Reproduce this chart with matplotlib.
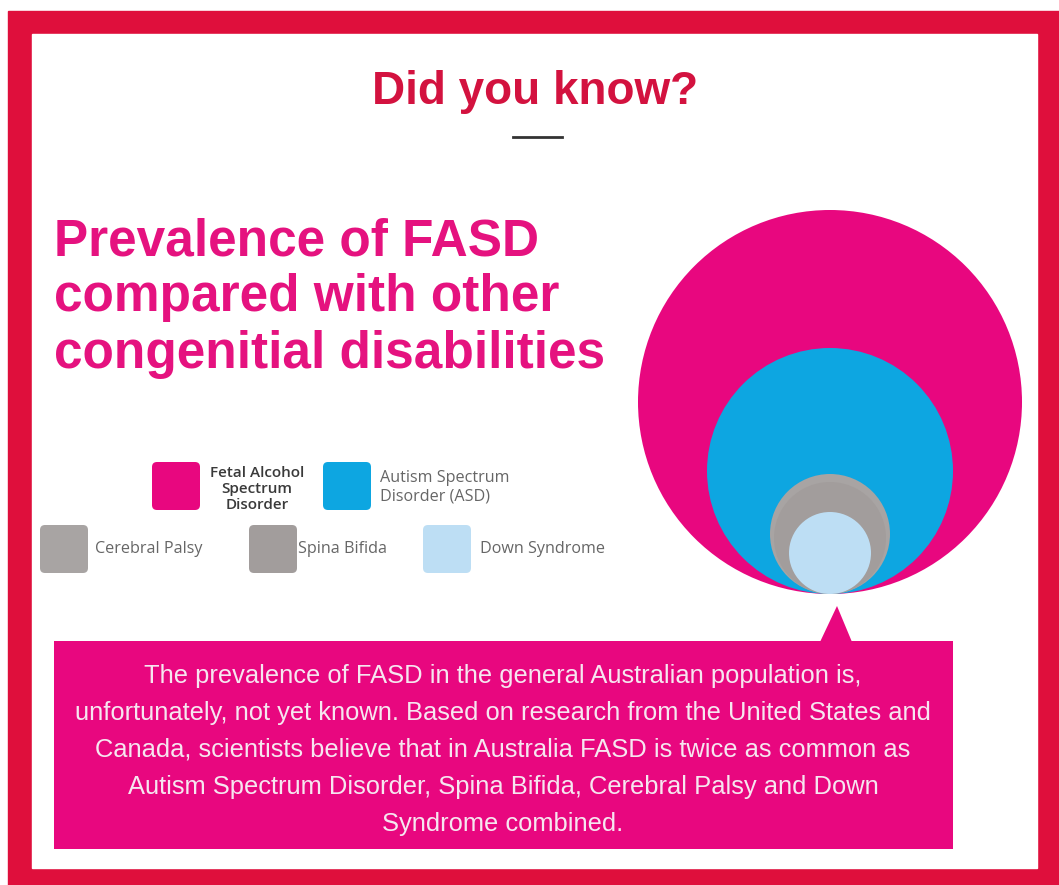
import matplotlib.pyplot as plt
from matplotlib.patches import Rectangle, Circle, FancyBboxPatch, Polygon

# %% data
title = 'Did you know?'
heading = ['Prevalence of FASD', 'compared with other', 'congenitial disabilities']
conditions = ['Fetal Alcohol\nSpectrum\nDisorder', 'Autism Spectrum\nDisorder (ASD)',
              'Cerebral Palsy', 'Spina Bifida', 'Down Syndrome']
# relative circle radius per condition (px)
radius = [192, 123, 60, 56, 41]
colors = ['#E8077F', '#0DA6E1', '#A8A4A3', '#A29D9C', '#BDDEF4']
body = ['The prevalence of FASD in the general Australian population is,',
        'unfortunately, not yet known. Based on research from the United States and',
        'Canada, scientists believe that in Australia FASD is twice as common as',
        'Autism Spectrum Disorder, Spina Bifida, Cerebral Palsy and Down',
        'Syndrome combined.']

# %% figure
W, H = 1059, 885
fig = plt.figure(figsize=(W / 100, H / 100), dpi=100)
ax = fig.add_axes([0, 0, 1, 1])
ax.set_xlim(0, W)
ax.set_ylim(H, 0)
ax.axis('off')

red = '#DF0F3C'
magenta = '#E8077F'
ax.add_patch(Rectangle((8, 11), W - 8, H - 11, color=red, zorder=0))
ax.add_patch(Rectangle((32, 34), 1037 - 32, 868 - 34, color='white', zorder=1))

# title + little dash
ax.text(535, 92, title, ha='center', va='center', fontsize=33, fontweight='bold',
        family='Liberation Sans', color='#D3123F', zorder=3)
ax.plot([513, 562], [137, 137], color='#333333', lw=2, zorder=3)

# heading
for i, line in enumerate(heading):
    ax.text(54, 255 + i * 56.5, line, ha='left', va='baseline', fontsize=37,
            fontweight='bold', family='Liberation Sans', color='#E5127F', zorder=3)

# nested circles, all touching the same bottom point
cx, base = 830, 594
for r, c in zip(radius, colors):
    ax.add_patch(Circle((cx, base - r), r, color=c, zorder=2, lw=0))

# legend
leg_pos = [(152, 462), (323, 462), (40, 525), (249, 525), (423, 525)]
txt_pos = [(257, 489, 'center'), (380, 487, 'left'), (95, 549, 'left'),
           (298, 549, 'left'), (480, 549, 'left')]
for i, name in enumerate(conditions):
    x0, y0 = leg_pos[i]
    ax.add_patch(FancyBboxPatch((x0 + 4, y0 + 4), 40, 40,
                                boxstyle='round,pad=4,rounding_size=5',
                                color=colors[i], lw=0, zorder=3))
    tx, ty, ha = txt_pos[i]
    ax.text(tx, ty, name, ha=ha, va='center', fontsize=11.6 if i else 11.0,
            family='Open Sans', color='#3A3A3A' if i == 0 else '#666666',
            fontweight='semibold' if i == 0 else 'normal',
            linespacing=1.2, zorder=3)

# callout box with pointer
ax.add_patch(Rectangle((54, 641), 953 - 54, 849 - 641, color=magenta, lw=0, zorder=2))
ax.add_patch(Polygon([(820, 642), (852, 642), (837, 606)], closed=True,
                     color=magenta, lw=0, zorder=2))
for i, line in enumerate(body):
    ax.text(503, 683 + i * 37, line, ha='center', va='baseline', fontsize=18.4,
            family='Liberation Sans', color='#F6E6F0', zorder=3)

fig.savefig('out.png', dpi=100)
